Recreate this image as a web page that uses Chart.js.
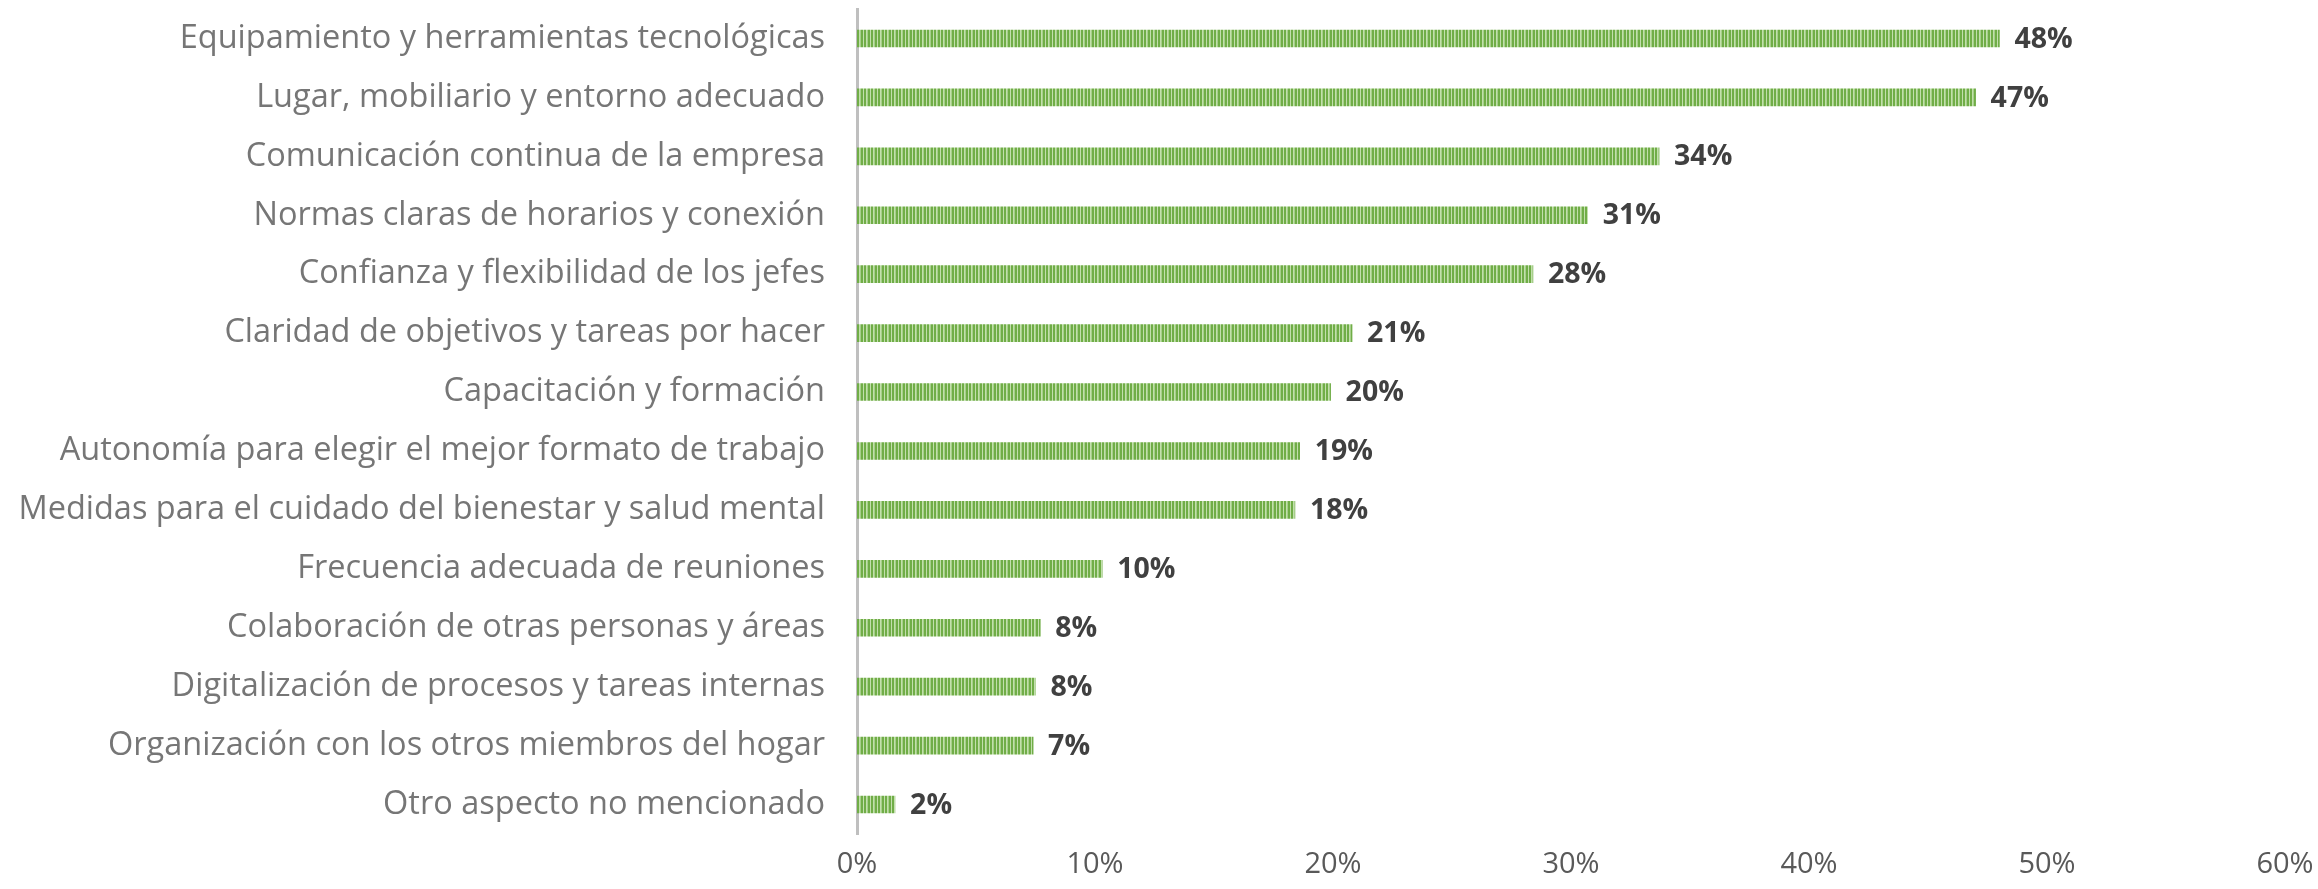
<!DOCTYPE html>
<html lang="es">
<head>
<meta charset="utf-8">
<title>Aspectos para trabajar en remoto</title>
<script src="https://cdn.jsdelivr.net/npm/chart.js@4.4.1/dist/chart.umd.min.js"></script>
<style>
  html, body { margin: 0; padding: 0; background: #ffffff; }
  #wrap { width: 2318px; height: 889px; }
</style>
</head>
<body>
<div id="wrap"><canvas id="chart" width="2318" height="889"></canvas></div>
<script>
// Categories, top to bottom
const categories = [
  "Equipamiento y herramientas tecnológicas",
  "Lugar, mobiliario y entorno adecuado",
  "Comunicación continua de la empresa",
  "Normas claras de horarios y conexión",
  "Confianza y flexibilidad de los jefes",
  "Claridad de objetivos y tareas por hacer",
  "Capacitación y formación",
  "Autonomía para elegir el mejor formato de trabajo",
  "Medidas para el cuidado del bienestar y salud mental",
  "Frecuencia adecuada de reuniones",
  "Colaboración de otras personas y áreas",
  "Digitalización de procesos y tareas internas",
  "Organización con los otros miembros del hogar",
  "Otro aspecto no mencionado"
];

// Share of respondents (%)
const shares = [48.0, 47.0, 33.7, 30.7, 28.4, 20.8, 19.9, 18.6, 18.4, 10.3, 7.7, 7.5, 7.4, 1.6];

// Axis ticks (%)
const xTicks = [0, 10, 20, 30, 40, 50, 60];

const FONT = "'Open Sans', 'DejaVu Sans', sans-serif";

// Vertical pinstripe fill for the bars (7 px tile: dark/light columns)
function stripeFill(ctx) {
  const cols = ['#70AD47', '#70AD47', '#C2DFAC', '#70AD47', '#70AD47', '#C2DFAC', '#A6CF8A'];
  const c = document.createElement('canvas');
  c.width = cols.length; c.height = 4;
  const p = c.getContext('2d');
  cols.forEach((col, i) => {
    p.fillStyle = col;
    p.fillRect(i, 0, 1, 4);
  });
  return ctx.createPattern(c, 'repeat');
}

// Bold value label drawn just after each bar end
const valueLabels = {
  id: 'valueLabels',
  afterDatasetsDraw(chart) {
    const ctx = chart.ctx;
    const meta = chart.getDatasetMeta(0);
    ctx.save();
    ctx.font = "bold 28.5px " + FONT;
    ctx.fillStyle = '#404040';
    ctx.textAlign = 'left';
    ctx.textBaseline = 'middle';
    meta.data.forEach((bar, i) => {
      const v = chart.data.datasets[0].data[i];
      ctx.fillText(Math.round(v) + '%', bar.x + 15, bar.y + 1);
    });
    ctx.restore();
  }
};

const ctx = document.getElementById('chart').getContext('2d');

new Chart(ctx, {
  type: 'bar',
  data: {
    labels: categories,
    datasets: [{
      data: shares,
      backgroundColor: stripeFill(ctx),
      borderWidth: 0,
      barThickness: 17
    }]
  },
  options: {
    indexAxis: 'y',
    responsive: false,
    animation: false,
    devicePixelRatio: 1,
    layout: { padding: { top: 9, right: 33, bottom: 0, left: 0 } },
    plugins: {
      legend: { display: false },
      tooltip: { enabled: false }
    },
    scales: {
      x: {
        type: 'linear',
        min: xTicks[0],
        max: xTicks[xTicks.length - 1],
        afterBuildTicks(scale) {
          scale.ticks = xTicks.map(v => ({ value: v }));
        },
        afterFit(scale) {
          scale.height = 55;
          scale.paddingLeft = 0;
          scale.paddingRight = 0;
        },
        grid: { display: false, drawTicks: false },
        border: { display: false },
        ticks: {
          padding: 13,
          color: '#595959',
          font: { family: FONT, size: 29 },
          callback: v => v + '%'
        }
      },
      y: {
        afterFit(scale) {
          scale.width = 857;
          scale.paddingTop = 0;
          scale.paddingBottom = 0;
        },
        grid: { display: false, drawTicks: false },
        border: { display: true, color: '#BFBFBF', width: 3 },
        ticks: {
          padding: 32,
          color: '#767676',
          font: { family: FONT, size: 32.5 }
        }
      }
    }
  },
  plugins: [valueLabels]
});
</script>
</body>
</html>
